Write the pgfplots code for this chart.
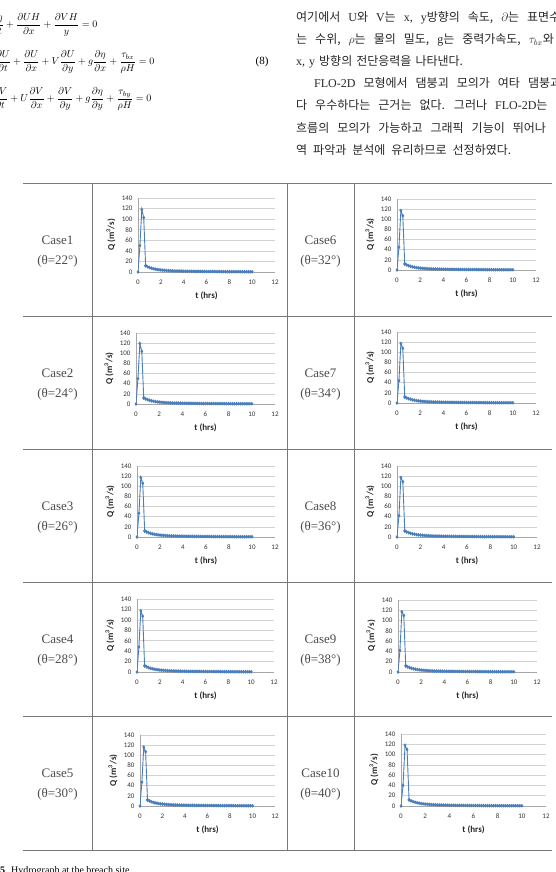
\documentclass[border=0pt]{standalone}
\usepackage{pgfplots}
\pgfplotsset{compat=1.18}
\usepackage{pgfplotstable}
\usepackage{fontspec}
\setmainfont{Liberation Serif}
\newfontfamily\carlito{Carlito}
\newfontfamily\kr{Noto Sans CJK KR}
\definecolor{xblue}{RGB}{74,126,187}
\definecolor{tline}{RGB}{120,120,120}

\pgfplotstableread{
t c1 c2 c3 c4 c5 c6 c7 c8 c9 c10
0 0 0 0 0 0 0 0 0 0 0
0.167 50 50 47 48 47 45 44 42 42 40
0.333 118 119 117 117 116 117 117 117 117 118
0.5 103 104 106 107 107 107 108 109 110 110
0.667 12 12 12 12 12 12 12 12 12 12
}\headtab

\pgfplotstableread{
t q
0.667 12
0.833 10
1 8.5
1.167 7.3
1.333 6.3
1.5 5.5
1.667 4.8
1.833 4.3
2 3.8
2.167 3.4
2.333 3.1
2.5 2.8
2.667 2.6
2.833 2.4
3 2.2
3.167 2.0
3.333 1.9
3.5 1.8
3.667 1.7
3.833 1.6
4 1.5
4.167 1.45
4.333 1.4
4.5 1.35
4.667 1.3
4.833 1.25
5 1.2
5.167 1.15
5.333 1.1
5.5 1.1
5.667 1.05
5.833 1.0
6 1.0
6.167 0.95
6.333 0.95
6.5 0.9
6.667 0.9
6.833 0.85
7 0.8
7.167 0.8
7.333 0.75
7.5 0.75
7.667 0.7
7.833 0.7
8 0.7
8.167 0.65
8.333 0.65
8.5 0.6
8.667 0.6
8.833 0.6
9 0.55
9.167 0.55
9.333 0.55
9.5 0.5
9.667 0.5
9.833 0.5
10 0.5
}\tailtab

\pgfplotsset{hstyle/.style={
  scale only axis, xmin=0, xmax=12, ymin=0, ymax=140,
  xtick={0,2,...,12}, ytick={0,20,...,140},
  axis lines*=left, axis line style={draw=gray!70},
  ymajorgrids, grid style={draw=gray!35, line width=0.5pt},
  major tick length=0pt,
  /pgf/number format/assume math mode=true,
  ticklabel style={font=\carlito\fontsize{7}{7}\selectfont, text=black!80},
  xticklabel style={yshift=-4pt},
  yticklabel style={xshift=-2pt},
  xlabel={t (hrs)}, ylabel={Q (m\textsuperscript{3}/s)},
  label style={font=\carlito\bfseries\fontsize{9}{10}\selectfont, text=black!85},
  xlabel style={at={([yshift=-24pt]axis description cs:0.5,0)}, anchor=center},
  ylabel style={at={([xshift=-27pt]axis description cs:0,0.5)}, anchor=center},
}}

\newcommand{\hydro}[5]{%
  \begin{axis}[hstyle, at={(#1pt,-#2pt)}, anchor=south west, width=#3pt, height=#4pt]
    \addplot[xblue, line width=0.9pt, mark=diamond*, mark size=1.2pt] table[x=t,y=#5]{\headtab};
    \addplot[xblue, line width=0.9pt, mark=diamond*, mark size=1.2pt] table[x=t,y=q]{\tailtab};
  \end{axis}}

\newcommand{\wsp}[1]{\spaceskip=#1\relax}

\begin{document}
\begin{tikzpicture}
\path[use as bounding box] (0,0) rectangle (556pt,-872pt);

\begin{scope}[x=1pt,y=-1pt]
% equations
\node[anchor=east, font=\fontsize{10}{12}\selectfont] at (101,25)
  {$\displaystyle \frac{\partial\eta}{\partial t}+\frac{\partial UH}{\partial x}+\frac{\partial VH}{y}=0$};
\node[anchor=east, font=\fontsize{10}{12}\selectfont] at (158,62)
  {$\displaystyle \frac{\partial U}{\partial t}+\frac{\partial U}{\partial x}+V\frac{\partial U}{\partial y}+g\frac{\partial\eta}{\partial x}+\frac{\tau_{bx}}{\rho H}=0$};
\node[anchor=east, font=\fontsize{10}{12}\selectfont] at (155,99)
  {$\displaystyle \frac{\partial V}{\partial t}+U\frac{\partial V}{\partial x}+\frac{\partial V}{\partial y}+g\frac{\partial\eta}{\partial y}+\frac{\tau_{by}}{\rho H}=0$};
\node[font=\fontsize{11}{13}\selectfont] at (262,62) {(8)};

% Korean text
\begin{scope}[every node/.style={anchor=base west, inner sep=0pt, font=\fontsize{12}{14}\selectfont, text=black!85}]
\node at (296,22) {\wsp{8pt}{\kr 여기에서} U{\kr 와} V{\kr 는} x, y{\kr 방향의} {\kr 속도,} $\partial${\kr 는} {\kr 표면수}};
\node at (296,44) {\wsp{8pt}{\kr 는} {\kr 수위,} $\rho${\kr 는} {\kr 물의} {\kr 밀도,} g{\kr 는} {\kr 중력가속도,} $\tau_{bx}${\kr 와}};
\node at (296,66) {\wsp{4pt}x, y {\kr 방향의} {\kr 전단응력을} {\kr 나타낸다.}};
\node at (314,88) {\wsp{8pt}FLO-2D {\kr 모형에서} {\kr 댐붕괴} {\kr 모의가} {\kr 여타} {\kr 댐붕괴}};
\node at (296,110) {\wsp{8pt}{\kr 다} {\kr 우수하다는} {\kr 근거는} {\kr 없다.} {\kr 그러나} FLO-2D{\kr 는}};
\node at (296,132) {\wsp{8pt}{\kr 흐름의} {\kr 모의가} {\kr 가능하고} {\kr 그래픽} {\kr 기능이} {\kr 뛰어나}};
\node at (296,154) {\wsp{6pt}{\kr 역} {\kr 파악과} {\kr 분석에} {\kr 유리하므로} {\kr 선정하였다.}};
\end{scope}

% table lines
\foreach \yy in {183,316,449,582,716,850} \draw[tline, line width=0.7pt] (23,\yy) -- (552,\yy);
\foreach \xx in {92,287,354} \draw[tline, line width=0.7pt] (\xx,183) -- (\xx,850);

% case labels
\begin{scope}[every node/.style={font=\fontsize{13}{15}\selectfont, text=black!70}]
\node at (57.5,240) {Case1};  \node at (57.5,261) {(θ=22°)};
\node at (57.5,373) {Case2};  \node at (57.5,394) {(θ=24°)};
\node at (57.5,506) {Case3};  \node at (57.5,527) {(θ=26°)};
\node at (57.5,639) {Case4};  \node at (57.5,660) {(θ=28°)};
\node at (57.5,773) {Case5};  \node at (57.5,794) {(θ=30°)};
\node at (320.5,240) {Case6};  \node at (320.5,261) {(θ=32°)};
\node at (320.5,373) {Case7};  \node at (320.5,394) {(θ=34°)};
\node at (320.5,506) {Case8};  \node at (320.5,527) {(θ=36°)};
\node at (320.5,639) {Case9};  \node at (320.5,660) {(θ=38°)};
\node at (320.5,773) {Case10}; \node at (320.5,794) {(θ=40°)};
\end{scope}

% caption
\node[anchor=base west, inner sep=0pt, font=\fontsize{10}{12}\selectfont] at (0,873) {\textbf{5}\hspace{6pt}Hydrograph at the breach site.};
\end{scope}

\hydro{138}{272}{137}{74}{c1}
\hydro{136}{404}{139}{71}{c2}
\hydro{137}{537}{138}{71}{c3}
\hydro{137}{672}{137}{73}{c4}
\hydro{140}{806}{135}{71}{c5}
\hydro{397}{270}{139}{71}{c6}
\hydro{397}{403}{139}{71}{c7}
\hydro{397}{537}{140}{71}{c8}
\hydro{398}{672}{139}{72}{c9}
\hydro{401}{806}{145}{72}{c10}
\end{tikzpicture}
\end{document}
